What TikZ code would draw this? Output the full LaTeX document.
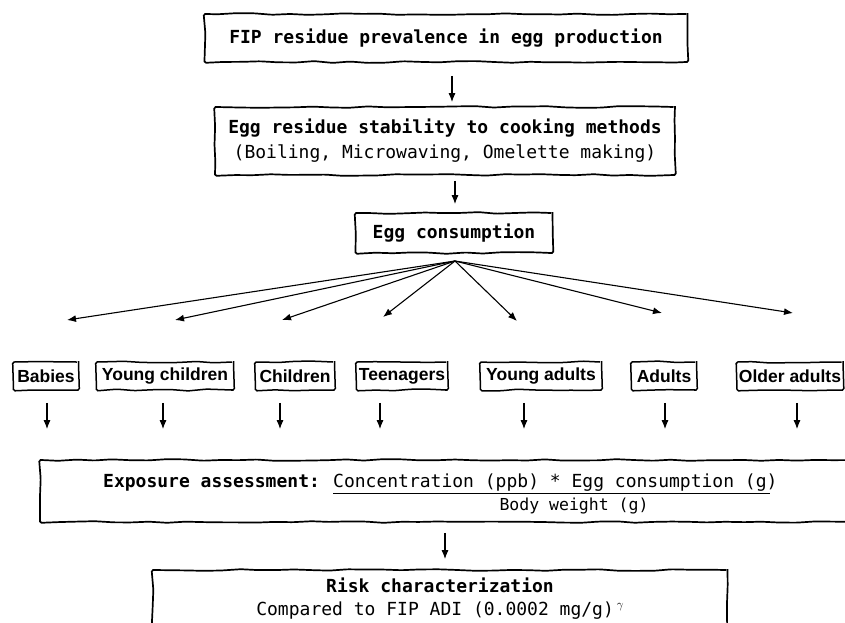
\documentclass[tikz,border=0pt]{standalone}
\usepackage{fontspec}
\newfontfamily\monof{DejaVu Sans Mono}
\newfontfamily\agef{Liberation Sans}
\usetikzlibrary{arrows.meta,decorations.pathmorphing,calc}
\begin{document}
\begin{tikzpicture}[x=1pt,y=-1pt,
  sketch/.style={draw, line width=1.7pt, decorate, decoration={random steps, segment length=18pt, amplitude=0.9pt}, rounded corners=1.5pt},
  mainbox/.style={sketch, font=\monof\fontsize{18}{25}\selectfont, align=center, inner sep=0pt},
  agebox/.style={sketch, line width=1.5pt, font=\agef\bfseries\fontsize{17.5}{20}\selectfont, minimum height=28pt, inner sep=0pt},
  arr/.style={-{Latex[length=9pt,width=7pt]}, line width=1.1pt},
  txt/.style={font=\monof\fontsize{18}{22}\selectfont, inner sep=0pt},
  btxt/.style={font=\monof\bfseries\fontsize{18}{22}\selectfont, inner sep=0pt}]
\pgfmathsetseed{7}
\useasboundingbox (0,0) rectangle (845,622);
\fill[white] (0,0) rectangle (845,622);

% main boxes
\node[mainbox, minimum width=483pt, minimum height=48pt] (fip) at (446,38) {\bfseries FIP residue prevalence in egg production};
\node[mainbox, minimum width=460pt, minimum height=68pt] (stab) at (445,141) {{\bfseries Egg residue stability to cooking methods}\\(Boiling, Microwaving, Omelette making)};
\node[mainbox, minimum width=197pt, minimum height=40pt] (eggc) at (454,233) {\bfseries Egg consumption};

% age groups
\node[agebox, minimum width=65pt] (bab) at (46,376) {Babies};
\node[agebox, minimum width=137pt] (ych) at (165,376) {Young children};
\node[agebox, minimum width=79pt] (chi) at (295,376) {Children};
\node[agebox, minimum width=91pt] (tee) at (402,376) {Teenagers};
\node[agebox, minimum width=121pt] (yad) at (541,376) {Young adults};
\node[agebox, minimum width=65pt] (adu) at (664,376) {Adults};
\node[agebox, minimum width=106pt] (old) at (790,376) {Older adults};

% exposure box
\node[sketch, minimum width=830pt, minimum height=62pt] (exp) at (455,491) {};
\node[btxt, anchor=base west] (expl) at (103,487) {Exposure assessment:};
\node[txt, anchor=base west] (num) at (333,487) {Concentration (ppb) * Egg consumption (g)};
\draw[line width=1pt] ($(num.base west)+(0,6)$) -- ($(num.base east)+(-8,6)$);
\node[anchor=base, inner sep=0pt, font=\monof\fontsize{16.5}{20}\selectfont] (den) at (574,510) {Body weight (g)};

% risk box
\node[sketch, minimum width=575pt, minimum height=90pt] (risk) at (440,615) {};
\node[btxt, anchor=base] (r1) at (440,592) {Risk characterization};
\node[txt, anchor=base] (r2) at (440,615) {Compared to FIP ADI (0.0002 mg/g)\,\raisebox{7pt}{\fontsize{13}{13}\selectfont$\gamma$}};

% vertical arrows
\draw[arr, shorten <=13pt, shorten >=4pt] (fip.south -| 452,0) -- (stab.north -| 452,0);
\draw[arr, shorten <=5pt, shorten >=8pt] (stab.south -| 455,0) -- (eggc.north -| 455,0);

% fan
\coordinate (fo) at (455,261);
\coordinate (t1) at (67,320);
\coordinate (t2) at (175,320);
\coordinate (t3) at (282,320);
\coordinate (t4) at (383,317);
\coordinate (t5) at (517,321);
\coordinate (t6) at (662,313);
\coordinate (t7) at (793,313);
\foreach \t in {t1,t2,t3,t4,t5,t6,t7}
  \draw[arr] (fo) -- (\t);

% short arrows
\foreach \n/\xx in {bab/47,ych/163,chi/280,tee/380,yad/524,adu/665,old/797}
  \draw[arr, shorten <=12pt, shorten >=30pt] (\n.south -| \xx,0) -- (exp.north -| \xx,0);

\draw[arr, shorten <=10pt, shorten >=10pt] (exp.south -| 445,0) -- (risk.north -| 445,0);
\end{tikzpicture}
\end{document}
